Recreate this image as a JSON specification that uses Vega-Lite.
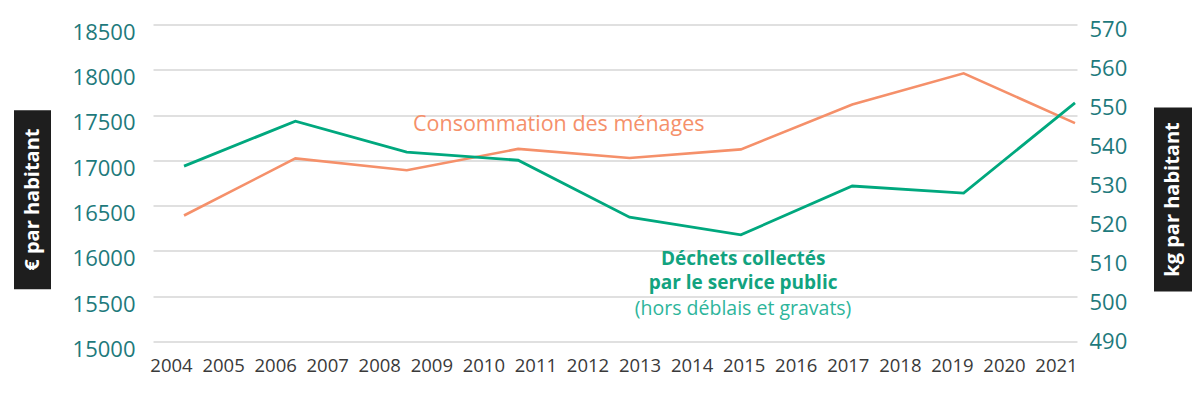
{
  "$schema": "https://vega.github.io/schema/vega-lite/v6.json",
  "padding": {"left": 14, "top": 18, "right": 5, "bottom": 5},
  "background": "white",
  "config": {
    "view": {"stroke": null},
    "font": "Open Sans",
    "axis": {"labelFont": "Open Sans", "domain": false, "ticks": false}
  },
  "datasets": {
    "conso": [
      {"year": 2005, "value": 16390},
      {"year": 2007, "value": 17020},
      {"year": 2009, "value": 16890},
      {"year": 2011, "value": 17125},
      {"year": 2013, "value": 17025},
      {"year": 2015, "value": 17120},
      {"year": 2017, "value": 17615},
      {"year": 2019, "value": 17960},
      {"year": 2021, "value": 17410}
    ],
    "dechets": [
      {"year": 2005, "value": 534.9},
      {"year": 2007, "value": 546.4},
      {"year": 2009, "value": 538.5},
      {"year": 2011, "value": 536.4},
      {"year": 2013, "value": 521.8},
      {"year": 2015, "value": 517.3},
      {"year": 2017, "value": 529.8},
      {"year": 2019, "value": 528.0},
      {"year": 2021, "value": 551.1}
    ],
    "labels": [
      {"year": 2004}, {"year": 2005}, {"year": 2006}, {"year": 2007}, {"year": 2008}, {"year": 2009},
      {"year": 2010}, {"year": 2011}, {"year": 2012}, {"year": 2013}, {"year": 2014}, {"year": 2015},
      {"year": 2016}, {"year": 2017}, {"year": 2018}, {"year": 2019}, {"year": 2020}, {"year": 2021}
    ]
  },
  "center": true,
  "spacing": 27,
  "hconcat": [
    {
      "center": true,
      "spacing": 21,
      "hconcat": [
        {
          "width": 37,
          "height": 179,
          "view": {"fill": "#1e1e1e", "stroke": null},
          "data": {"values": [{"label": "€ par habitant"}]},
          "mark": {"type": "text", "angle": 270, "color": "white", "fontSize": 20, "fontWeight": "bold", "font": "Open Sans", "align": "center", "baseline": "middle"},
          "encoding": {"text": {"field": "label"}}
        },
        {
          "width": 924,
          "height": 317,
          "layer": [
            {
              "layer": [
                {
                  "data": {"name": "conso"},
                  "mark": {"type": "line", "color": "#f5906a", "strokeWidth": 2.6},
                  "encoding": {
                    "x": {"field": "year", "type": "quantitative", "scale": {"domain": [2004.443, 2021.036], "nice": false, "zero": false}, "axis": null},
                    "y": {"field": "value", "type": "quantitative", "scale": {"domain": [15000, 18500], "nice": false, "zero": false},
                      "axis": {"orient": "left", "title": null, "values": [15000, 15500, 16000, 16500, 17000, 17500, 18000, 18500], "format": "d", "grid": true, "gridColor": "#d6d6d6", "gridWidth": 1.5, "labelColor": "#1e7a7c", "labelFontSize": 22, "labelPadding": 18, "labelOffset": 8, "labelOverlap": false}}
                  }
                },
                {
                  "data": {"values": [{"year": 2011.73, "value": 17384, "label": "Consommation des ménages"}]},
                  "mark": {"type": "text", "color": "#f5906a", "fontSize": 21.5, "align": "center", "baseline": "middle"},
                  "encoding": {
                    "x": {"field": "year", "type": "quantitative", "axis": null},
                    "y": {"field": "value", "type": "quantitative",
                      "axis": {"orient": "left", "title": null, "values": [15000, 15500, 16000, 16500, 17000, 17500, 18000, 18500], "format": "d", "grid": true, "gridColor": "#d6d6d6", "gridWidth": 1.5, "labelColor": "#1e7a7c", "labelFontSize": 22, "labelPadding": 18, "labelOffset": 8, "labelOverlap": false}},
                    "text": {"field": "label"}
                  }
                }
              ]
            },
            {
              "layer": [
                {
                  "data": {"name": "dechets"},
                  "mark": {"type": "line", "color": "#00a87e", "strokeWidth": 2.8},
                  "encoding": {
                    "x": {"field": "year", "type": "quantitative", "scale": {"domain": [2004.443, 2021.036], "nice": false, "zero": false}, "axis": null},
                    "y": {"field": "value", "type": "quantitative", "scale": {"domain": [490, 571.2], "nice": false, "zero": false},
                      "axis": {"orient": "right", "title": null, "values": [490, 500, 510, 520, 530, 540, 550, 560, 570], "grid": false, "labelColor": "#1e7a7c", "labelFontSize": 22, "labelPadding": 12, "labelOverlap": false}}
                  }
                },
                {
                  "data": {"values": [
                    {"year": 2015.04, "value": 511.0, "label": "Déchets collectés"},
                    {"year": 2015.04, "value": 504.85, "label": "par le service public"}
                  ]},
                  "mark": {"type": "text", "color": "#12a37f", "fontSize": 19, "fontWeight": "bold", "align": "center", "baseline": "middle"},
                  "encoding": {
                    "x": {"field": "year", "type": "quantitative", "axis": null},
                    "y": {"field": "value", "type": "quantitative",
                      "axis": {"orient": "right", "title": null, "values": [490, 500, 510, 520, 530, 540, 550, 560, 570], "grid": false, "labelColor": "#1e7a7c", "labelFontSize": 22, "labelPadding": 12, "labelOverlap": false}},
                    "text": {"field": "label"}
                  }
                },
                {
                  "data": {"values": [{"year": 2015.04, "value": 498.3, "label": "(hors déblais et gravats)"}]},
                  "mark": {"type": "text", "color": "#2db59b", "fontSize": 19.5, "align": "center", "baseline": "middle"},
                  "encoding": {
                    "x": {"field": "year", "type": "quantitative", "axis": null},
                    "y": {"field": "value", "type": "quantitative",
                      "axis": {"orient": "right", "title": null, "values": [490, 500, 510, 520, 530, 540, 550, 560, 570], "grid": false, "labelColor": "#1e7a7c", "labelFontSize": 22, "labelPadding": 12, "labelOverlap": false}},
                    "text": {"field": "label"}
                  }
                }
              ]
            },
            {
              "data": {"name": "labels"},
              "mark": {"type": "point", "opacity": 0},
              "encoding": {
                "x": {"field": "year", "type": "quantitative", "scale": {"domain": [2003.654, 2021.403], "nice": false, "zero": false},
                  "axis": {"orient": "bottom", "title": null, "values": [2004, 2005, 2006, 2007, 2008, 2009, 2010, 2011, 2012, 2013, 2014, 2015, 2016, 2017, 2018, 2019, 2020, 2021], "format": "d", "grid": false, "labelColor": "#3a3a3a", "labelFontSize": 18.5, "labelPadding": 15, "labelFlush": false, "labelOverlap": false, "labelBound": false}}
              }
            }
          ],
          "resolve": {"scale": {"x": "independent", "y": "independent"}, "axis": {"x": "independent", "y": "independent"}}
        }
      ]
    },
    {
      "width": 38,
      "height": 184,
      "view": {"fill": "#1e1e1e", "stroke": null},
      "data": {"values": [{"label": "kg par habitant"}]},
      "mark": {"type": "text", "angle": 270, "color": "white", "fontSize": 20, "fontWeight": "bold", "font": "Open Sans", "align": "center", "baseline": "middle"},
      "encoding": {"text": {"field": "label"}}
    }
  ]
}
